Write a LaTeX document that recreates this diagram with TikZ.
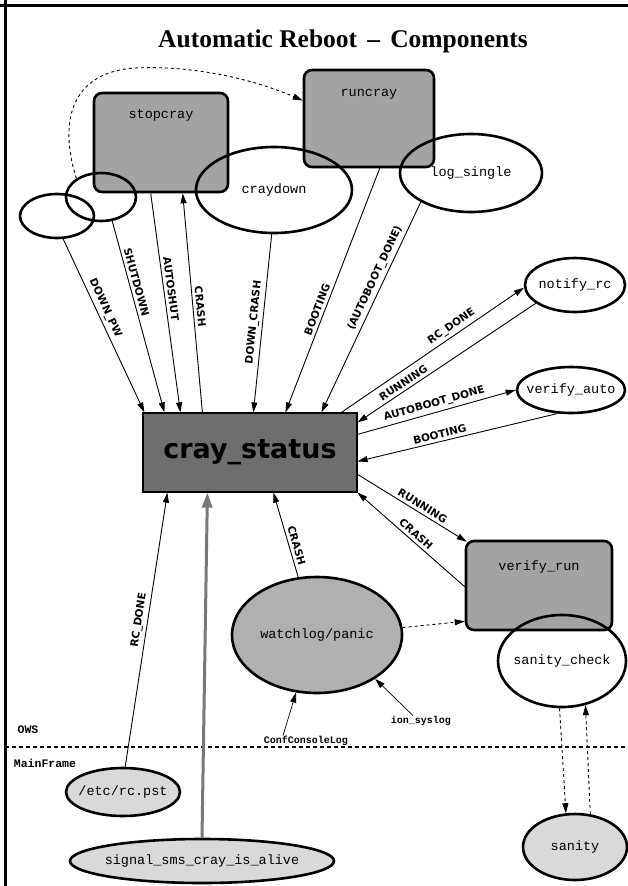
\documentclass[tikz,border=0pt]{standalone}
\usepackage{fontspec}
\setmainfont{Liberation Serif}
\newfontfamily\titlefont{Liberation Serif}
\newfontfamily\monofont{Liberation Mono}
\newfontfamily\lblfont{DejaVu Sans}
\newfontfamily\bigfont{DejaVu Sans}
\usetikzlibrary{arrows.meta,shapes.geometric,calc}
\definecolor{boxgray}{gray}{0.64}
\definecolor{crayfill}{gray}{0.43}
\definecolor{wdfill}{gray}{0.69}
\definecolor{lightfill}{gray}{0.85}
\definecolor{arrgray}{gray}{0.47}
\begin{document}
\begin{tikzpicture}[x=1pt,y=-1pt,
  box/.style={draw, line width=2.6pt, rounded corners=8pt, fill=boxgray, inner sep=0pt},
  ell/.style={draw, ellipse, line width=2.6pt, inner sep=0pt},
  nlab/.style={font=\monofont\fontsize{13.5}{15}\selectfont, inner sep=0pt},
  elab/.style={font=\lblfont\bfseries\fontsize{10.5}{11}\selectfont, sloped, inner sep=3pt},
  tiny/.style={font=\monofont\bfseries\fontsize{10}{11}\selectfont, inner sep=0.5pt},
  small/.style={font=\monofont\bfseries\fontsize{11.5}{12}\selectfont, inner sep=0.5pt},
  edge/.style={line width=0.9pt, -{Triangle[length=10pt,width=6pt]}},
  dedge/.style={line width=0.9pt, dashed, -{Triangle[length=10pt,width=6pt]}},
  sepline/.style={line width=1.4pt, dash pattern=on 4pt off 3pt}
]
\useasboundingbox (0,0) rectangle (628,886);
\fill[white] (0,0) rectangle (628,886);
\draw[line width=3pt] (0,5) -- (628,5);
\draw[line width=3pt] (5.5,0) -- (5.5,886);

\node[font=\titlefont\bfseries\fontsize{25.5}{27}\selectfont] (title) at (343,41) {Automatic Reboot\hspace{0.4em}\textendash\hspace{0.4em}Components};

% boxes
\node[box, minimum width=134pt, minimum height=99pt,
      label={[nlab,anchor=north,yshift=-18pt]north:stopcray}] (stopcray) at (161,142.5) {};
\node[box, minimum width=130pt, minimum height=97pt,
      label={[nlab,anchor=north,yshift=-20pt]north:runcray}] (runcray) at (369,118.5) {};
\node[box, minimum width=146pt, minimum height=89pt,
      label={[nlab,anchor=north,yshift=-21pt]north:verify\_run}] (verifyrun) at (539,585.5) {};

% ellipses
\node[ell, minimum width=156pt, minimum height=86pt, label={[nlab]center:craydown}] (craydown) at (274,190) {};
\node[ell, minimum width=142pt, minimum height=78pt, label={[nlab]center:log\_single}] (logsingle) at (471,173) {};
\node[ell, minimum width=74pt, minimum height=44pt] (e1) at (57,216) {};
\node[ell, minimum width=70pt, minimum height=48pt] (e2) at (101,197) {};
\node[ell, minimum width=100pt, minimum height=54pt, label={[nlab]center:notify\_rc}] (notifyrc) at (575,285) {};
\node[ell, minimum width=108pt, minimum height=46pt, label={[nlab]center:verify\_auto}] (verifyauto) at (571,390) {};
\node[ell, minimum width=128pt, minimum height=92pt, label={[nlab]center:sanity\_check}] (sanitycheck) at (562,661) {};
\node[ell, fill=wdfill, minimum width=170pt, minimum height=116pt, label={[nlab]center:watchlog/panic}] (watchdog) at (317,635) {};
\node[ell, fill=lightfill, minimum width=114pt, minimum height=48pt, label={[nlab]center:/etc/rc.pst}] (rcpst) at (123,792) {};
\node[ell, fill=lightfill, minimum width=264pt, minimum height=44pt, label={[nlab]center:signal\_sms\_cray\_is\_alive}] (signal) at (202,861) {};
\node[ell, fill=lightfill, minimum width=104pt, minimum height=66pt, label={[nlab]center:sanity}] (sanity) at (575,847) {};

% central
\node[draw, line width=1.2pt, fill=crayfill, minimum width=214pt, minimum height=79pt,
      font=\bigfont\bfseries\fontsize{27}{30}\selectfont] (cray) at (250,452.5) {cray\_status};

% small texts
\node[small] (ows) at (28,730) {OWS};
\node[small] (mf) at (45,763) {MainFrame};
\node[tiny] (cfl) at (306,741) {ConfConsoleLog};
\node[tiny] (ion) at (421,721) {ion\_syslog};
\draw[sepline] (5,747) -- (628,747);

% edges into top of cray_status
\draw[edge] (e1.-75) -- ($(cray.north west)+(2,0)$) node[elab,pos=.42,above]{DOWN\_PW};
\draw[edge] (e2.-65) -- ($(cray.north west)+(22,0)$) node[elab,pos=.33,above]{SHUTDOWN};
\draw[edge] ($(stopcray.south west)+(58,0)$) -- ($(cray.north west)+(38,0)$) node[elab,pos=.44,above]{AUTOSHUT};
\draw[edge] ($(cray.north west)+(60,0)$) -- ($(stopcray.south west)+(90,0)$) node[elab,pos=.48,above]{CRASH};
\draw[edge] (craydown.-93) -- ($(cray.north west)+(111,0)$) node[elab,pos=.5,above]{DOWN\_CRASH};
\draw[edge] ($(runcray.south west)+(77,0)$) -- ($(cray.north west)+(143,0)$) node[elab,pos=.59,above]{BOOTING};
\draw[edge] (logsingle.-150) -- ($(cray.north west)+(179,0)$) node[elab,pos=.38,above]{(AUTOBOOT\_DONE)};

% right side
\draw[edge] ($(cray.north west)+(199,0)$) -- (notifyrc.183) node[elab,pos=.63,above]{RC\_DONE};
\draw[edge] (notifyrc.-155) -- ($(cray.north east)+(0,10)$) node[elab,pos=.72,above]{RUNNING};
\draw[edge] ($(cray.north east)+(0,22)$) -- (verifyauto.180) node[elab,pos=.5,above]{AUTOBOOT\_DONE};
\draw[edge] (verifyauto.-120) -- ($(cray.north east)+(0,49)$) node[elab,pos=.58,above]{BOOTING};
\draw[edge] ($(cray.north east)+(0,62)$) -- ($(verifyrun.north west)+(2,2)$) node[elab,pos=.56,above]{RUNNING};
\draw[edge] ($(verifyrun.north west)+(0,47)$) -- (cray.south east) node[elab,pos=.5,above]{CRASH};

% bottom
\draw[edge] (watchdog.108) -- ($(cray.south west)+(131,0)$) node[elab,pos=.35,above]{CRASH};
\draw[edge] (rcpst.85) -- ($(cray.south west)+(25,0)$) node[elab,pos=.53,above]{RC\_DONE};
\draw[line width=3pt, arrgray, -{Triangle[length=15pt,width=10pt]}] (signal.north) -- ($(cray.south west)+(65,0)$);
\draw[dedge] (watchdog.5) -- ($(verifyrun.south west)+(0,-10)$);
\draw[edge, line width=0.7pt] ($(cfl.north)+(-23,0)$) -- (watchdog.-110);
\draw[edge, line width=0.7pt] ($(ion.north)+(-8,0)$) -- (watchdog.-37);
\draw[dedge] (sanitycheck.-93) -- (sanity.105);
\draw[dedge] (sanity.65) -- (sanitycheck.-62);

% dashed curve
\draw[dedge] (e2.143) .. controls (58,120) and (72,72) .. (135,68)
   .. controls (195,65) and (255,80) .. ($(runcray.west)+(0,-18)$);
\end{tikzpicture}
\end{document}
